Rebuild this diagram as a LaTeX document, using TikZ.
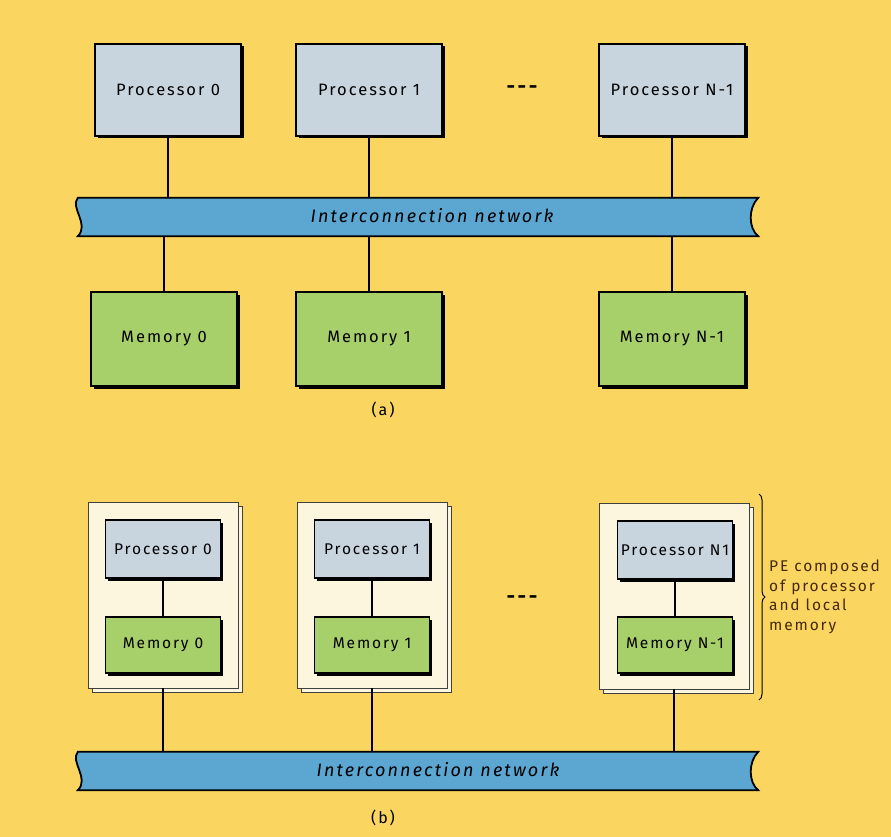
\documentclass[tikz,border=0pt]{standalone}
\usepackage{fontspec}
\setmainfont[LetterSpace=12]{Fira Sans}
\usepackage{xcolor}
\usetikzlibrary{shadows,decorations.pathreplacing}

\definecolor{bgyellow}{RGB}{250,214,96}
\definecolor{procgray}{RGB}{201,213,222}
\definecolor{memgreen}{RGB}{168,208,106}
\definecolor{netblue}{RGB}{92,166,210}
\definecolor{pecream}{RGB}{252,246,222}
\definecolor{notebrown}{RGB}{70,40,10}

\begin{document}
\begin{tikzpicture}[x=1pt, y=-1pt,
    box/.style={draw=black, line width=1.6pt, inner sep=0pt,
      drop shadow={shadow xshift=2.5pt, shadow yshift=-2.5pt, fill=black, opacity=1}},
    proc/.style={box, fill=procgray, minimum width=146pt, minimum height=92pt,
      font=\fontsize{16.5}{18}\selectfont},
    mem/.style={proc, fill=memgreen, minimum height=94pt},
    sproc/.style={box, fill=procgray, minimum width=115pt, minimum height=58pt,
      font=\fontsize{15.5}{17}\selectfont},
    smem/.style={sproc, fill=memgreen, minimum height=56pt},
    pe/.style={draw=black!75, line width=0.8pt, fill=pecream, minimum width=150pt,
      minimum height=186pt, copy shadow={shadow xshift=4pt, shadow yshift=-4pt}},
    band/.style={minimum width=680pt, minimum height=38pt, inner sep=0pt},
    bandline/.style={draw=black, line width=1.8pt, fill=netblue},
    nettext/.style={font=\fontsize{18}{20}\selectfont\itshape},
    wire/.style={line width=1.6pt},
    caption/.style={font=\fontsize{16}{18}\selectfont},
    dots/.style={font=\fontsize{21}{22}\selectfont\bfseries},
    note/.style={text=notebrown, align=left, inner sep=0pt,
      font=\fontsize{15.5}{19.5}\selectfont}]

  % background
  \fill[bgyellow] (0,0) rectangle (891,837);
  \useasboundingbox (0,0) rectangle (891,837);

  % (a) shared memory
  \node[proc] (P0) at (168,90) {Processor 0};
  \node[proc] (P1) at (369,90) {Processor 1};
  \node[proc] (PN) at (672,90) {Processor N-1};
  \node[dots] (dotsA) at (522,90) {-{}-{}-};

  \node[band] (netA) at (418,217) {};
  \draw[bandline] (netA.north west) -- (netA.north east)
    .. controls +(-10,10) and +(-10,-8) .. (netA.south east)
    -- (netA.south west)
    .. controls +(12,-12) and +(-8,10) .. (netA.north west) -- cycle;
  \node[nettext] (netAtext) at (432,216) {Interconnection network};

  \node[mem] (M0) at (164,339) {Memory 0};
  \node[mem] (M1) at (369,339) {Memory 1};
  \node[mem] (MN) at (672,339) {Memory N-1};

  \foreach \i in {0,1,N} {
    \draw[wire] (P\i.south) -- (P\i.south |- netA.north);
    \draw[wire] (M\i.north |- netA.south) -- (M\i.north);
  }
  \node[caption] (capA) at (383,410) {(a)};

  % (b) distributed memory
  \node[pe] (PE0) at (163,595) {};
  \node[pe] (PE1) at (372,595) {};
  \node[pe] (PEN) at (674,596) {};

  \node[sproc] (Q0) at (163,549) {Processor 0};
  \node[smem] (R0) at (163,645) {Memory 0};
  \node[sproc] (Q1) at (372,549) {Processor 1};
  \node[smem] (R1) at (372,645) {Memory 1};
  \node[sproc] (QN) at (675,550) {Processor N1};
  \node[smem] (RN) at (675,645) {Memory N-1};
  \node[dots] (dotsB) at (522,600) {-{}-{}-};

  \node[band] (netB) at (418,771) {};
  \draw[bandline] (netB.north west) -- (netB.north east)
    .. controls +(-10,10) and +(-10,-8) .. (netB.south east)
    -- (netB.south west)
    .. controls +(12,-12) and +(-8,10) .. (netB.north west) -- cycle;
  \node[nettext] (netBtext) at (438,770) {Interconnection network};

  \foreach \i in {0,1,N} {
    \draw[wire] (Q\i.south) -- (R\i.north);
    \draw[wire] (PE\i.south) -- (PE\i.south |- netB.north);
  }
  \node[caption] (capB) at (383,818) {(b)};

  % PE brace and note
  \coordinate (braceTop) at (759,494);
  \coordinate (braceBot) at (759,700);
  \draw[line width=1pt, decorate, decoration={brace, amplitude=6pt}] (braceTop) -- (braceBot);
  \node[note, anchor=north west] (peNote) at (769,560) {PE composed\\of processor\\and local\\memory};
\end{tikzpicture}
\end{document}
